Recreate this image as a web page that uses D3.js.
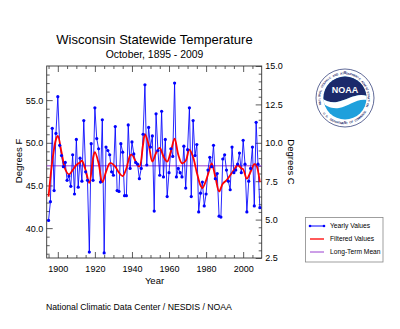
<!DOCTYPE html>
<html><head><meta charset="utf-8">
<script src="https://cdn.jsdelivr.net/npm/d3@7"></script>
<style>body{margin:0;background:#fff}svg{display:block}text{font-family:"Liberation Sans",Arial,sans-serif}</style>
</head><body>
<svg id="c" width="400" height="329"></svg>
<script>
// ---- data ----
const startYear = 1895;
const tempsF = [
  40.9, 43.1, 51.7, 44.4, 51.1, 55.4, 49.7, 48.5, 47.2, 47.7,
  45.6, 46.1, 44.9, 48.6, 44.0, 50.4, 44.8, 48.2, 45.5, 52.6,
  46.6, 45.6, 37.2, 49.9, 45.6, 54.1, 50.5, 49.3, 45.4, 52.7,
  37.1, 49.5, 49.1, 48.6, 46.6, 46.2, 51.9, 44.4, 44.3, 49.9,
  48.9, 43.8, 43.8, 52.1, 47.0, 50.1, 48.7, 47.7, 47.5, 45.8,
  47.0, 51.0, 56.8, 47.4, 51.8, 49.5, 50.8, 42.0, 53.4, 49.1,
  46.2, 53.7, 46.0, 50.4, 43.7, 46.5, 49.3, 48.4, 57.0, 46.0,
  47.0, 46.5, 46.0, 49.6, 44.7, 49.2, 54.1, 43.7, 52.6, 48.5,
  49.8, 41.9, 44.1, 45.4, 42.6, 44.0, 46.8, 48.3, 47.2, 49.7,
  45.8, 46.4, 41.4, 41.3, 48.1, 48.6, 46.8, 45.5, 44.5, 49.5,
  46.5, 46.8, 47.5, 48.8, 46.5, 50.3, 47.5, 41.9, 45.5, 47.0,
  49.5, 42.6, 52.4, 47.5, 42.4
];
const years = tempsF.map((_, i) => startYear + i);
const filteredYears = [1895,1897,1899,1900,1902,1904,1906,1908,1910,1912,1913,1915,1917,1919,1920,1922,1924,1926,1928,1929,1931,1933,1935,1937,1939,1940,1942,1944,1946,1947,1949,1951,1953,1955,1957,1959,1961,1963,1965,1967,1969,1971,1973,1975,1977,1978,1980,1982,1983,1985,1987,1989,1991,1993,1995,1997,1999,2000,2002,2004,2006,2007,2009];
const filteredF = [43.7,47.8,50.4,50.8,48.9,46.9,46.3,46.8,47.4,47.7,47.9,46.8,45.3,48.2,48.9,47.6,45.4,46.6,47.6,47.6,47.2,46.5,46.1,47.0,48.5,48.6,47.8,47.2,49.8,51.0,49.8,47.8,48.8,49.4,48.4,47.8,49.0,50.5,48.6,47.6,47.9,49.2,48.3,46.5,45.0,44.7,45.6,47.0,47.6,46.0,44.3,45.2,45.6,46.2,46.8,47.4,47.0,46.9,45.8,46.6,47.5,47.4,45.4];
const meanF = 47.3;
const xTickYears = [1900, 1920, 1940, 1960, 1980, 2000];
const yTicksF = [40, 45, 50, 55];
const yTicksC = [2.5, 5, 7.5, 10, 12.5, 15];
const legendLabels = ["Yearly Values", "Filtered Values", "Long-Term Mean"];
const logoTopText = "NATIONAL OCEANIC AND ATMOSPHERIC ADMINISTRATION";
const logoBottomText = "U.S. DEPARTMENT OF COMMERCE";

// ---- layout ----
const L = 46.7, R = 261.7, T = 66, B = 258;
const svg = d3.select("#c");
const x = d3.scaleLinear().domain([1894, 2010]).range([L, R]);
const yF = d3.scaleLinear().domain([36.5, 59]).range([B, T]);
const yC = d3.scaleLinear().domain([2.5, 15]).range([B, T]);
const blue = "#0000ff", red = "#ff0000", purple = "#9a3fd0", frame = "#333";

svg.append("rect").attr("width", 400).attr("height", 329).attr("fill", "#fff");

// titles
svg.append("text").attr("x", 154.5).attr("y", 43.5).attr("text-anchor", "middle")
  .attr("font-size", 13).attr("fill", "#000").text("Wisconsin Statewide Temperature");
svg.append("text").attr("x", 154.5).attr("y", 57.5).attr("text-anchor", "middle")
  .attr("font-size", 10.4).attr("fill", "#000").text("October, 1895 - 2009");

// axes
const fmt = d3.format(".1f");
function styleAxis(g) {
  g.select(".domain").remove();
  g.selectAll("line").attr("stroke", frame).attr("stroke-width", 0.8);
  g.selectAll("text").attr("font-size", 9).attr("fill", "#000")
    .attr("font-family", "Liberation Sans, Arial, sans-serif");
}
function bare(g) {
  g.select(".domain").remove();
  g.selectAll("text").remove();
  g.selectAll("line").attr("stroke", frame).attr("stroke-width", 0.8);
}
const minorYears = d3.range(1895, 2010, 5).filter(v => v % 20 !== 0);
svg.append("g").attr("transform", `translate(0,${B})`)
  .call(d3.axisBottom(x).tickValues(xTickYears).tickFormat(d3.format("d")).tickSizeInner(-6).tickSizeOuter(0).tickPadding(8))
  .call(styleAxis);
svg.append("g").attr("transform", `translate(0,${B})`)
  .call(d3.axisBottom(x).tickValues(minorYears).tickSizeInner(-3).tickSizeOuter(0)).call(bare);
svg.append("g").attr("transform", `translate(0,${T})`)
  .call(d3.axisTop(x).tickValues(xTickYears).tickSizeInner(-6).tickSizeOuter(0)).call(bare);
svg.append("g").attr("transform", `translate(0,${T})`)
  .call(d3.axisTop(x).tickValues(minorYears).tickSizeInner(-3).tickSizeOuter(0)).call(bare);
svg.append("g").attr("transform", `translate(${L},0)`)
  .call(d3.axisLeft(yF).tickValues(yTicksF).tickFormat(fmt).tickSizeInner(-6).tickSizeOuter(0).tickPadding(3.5))
  .call(styleAxis);
svg.append("g").attr("transform", `translate(${L},0)`)
  .call(d3.axisLeft(yF).tickValues(d3.range(37, 59, 1).filter(v => v % 5 !== 0)).tickSizeInner(-3).tickSizeOuter(0)).call(bare);
svg.append("g").attr("transform", `translate(${R},0)`)
  .call(d3.axisRight(yC).tickValues(yTicksC).tickFormat(fmt).tickSizeInner(-6).tickSizeOuter(0).tickPadding(3.5))
  .call(styleAxis);
svg.append("g").attr("transform", `translate(${R},0)`)
  .call(d3.axisRight(yC).tickValues(d3.range(3, 15, 0.5).filter(v => v % 2.5 !== 0)).tickSizeInner(-3).tickSizeOuter(0)).call(bare);

// frame
svg.append("rect").attr("x", L).attr("y", T).attr("width", R - L).attr("height", B - T)
  .attr("fill", "none").attr("stroke", frame).attr("stroke-width", 0.9);

// axis titles
svg.append("text").attr("transform", "translate(22,161) rotate(-90)").attr("text-anchor", "middle")
  .attr("font-size", 9.5).text("Degrees F");
svg.append("text").attr("transform", "translate(288,162) rotate(90)").attr("text-anchor", "middle")
  .attr("font-size", 9.5).text("Degrees C");
svg.append("text").attr("x", 154.5).attr("y", 284).attr("text-anchor", "middle")
  .attr("font-size", 9.5).text("Year");
svg.append("text").attr("x", 46).attr("y", 310).attr("font-size", 8.7)
  .text("National Climatic Data Center / NESDIS / NOAA");

// data
const plot = svg.append("g");
plot.append("line").attr("x1", L).attr("x2", R).attr("y1", yF(meanF)).attr("y2", yF(meanF))
  .attr("stroke", purple).attr("stroke-width", 1);
plot.append("path").datum(tempsF)
  .attr("d", d3.line().x((d, i) => x(years[i])).y(d => yF(d)))
  .attr("fill", "none").attr("stroke", blue).attr("stroke-width", 1).attr("stroke-opacity", 0.85);
plot.append("path").datum(filteredF)
  .attr("d", d3.line().x((d, i) => x(filteredYears[i])).y(d => yF(d)).curve(d3.curveCatmullRom.alpha(0.5)))
  .attr("fill", "none").attr("stroke", red).attr("stroke-width", 1.8);
plot.selectAll("circle.pt").data(tempsF).join("circle").attr("class", "pt")
  .attr("cx", (d, i) => x(years[i])).attr("cy", d => yF(d)).attr("r", 1.6).attr("fill", blue);

// legend
const lg = svg.append("g");
lg.append("rect").attr("x", 305.5).attr("y", 217.5).attr("width", 77.5).attr("height", 44.5)
  .attr("fill", "#fff").attr("stroke", "#888").attr("stroke-width", 0.8);
const ly = [226, 239, 252];
const lcol = [blue, red, purple];
legendLabels.forEach((t, i) => {
  lg.append("line").attr("x1", 310).attr("x2", 324).attr("y1", ly[i]).attr("y2", ly[i])
    .attr("stroke", lcol[i]).attr("stroke-width", i === 1 ? 1.3 : 1);
  if (i === 0) {
    [310, 324].forEach(cx => lg.append("circle").attr("cx", cx).attr("cy", ly[i]).attr("r", 1.3).attr("fill", blue));
  }
  lg.append("text").attr("x", 330).attr("y", ly[i] + 2.3).attr("font-size", 6.7).attr("fill", "#000").text(t);
});

// NOAA logo
const cx = 345, cy = 98;
const logo = svg.append("g");
logo.append("circle").attr("cx", cx).attr("cy", cy).attr("r", 29).attr("fill", "#fff")
  .attr("stroke", "#1b2a6b").attr("stroke-width", 0.7);
const defs = svg.append("defs");
defs.append("clipPath").attr("id", "disc").append("circle").attr("cx", cx).attr("cy", cy).attr("r", 21.5);
const disc = logo.append("g").attr("clip-path", "url(#disc)");
disc.append("rect").attr("x", cx - 22).attr("y", cy - 22).attr("width", 44).attr("height", 44).attr("fill", "#1ea0dc");
disc.append("path").attr("fill", "#1b2a6b")
  .attr("d", `M ${cx-22} ${cy-22} H ${cx+22} V ${cy-2} C ${cx+12} ${cy-6}, ${cx+2} ${cy+2}, ${cx-8} ${cy+4} C ${cx-14} ${cy+5}, ${cx-19} ${cy+3}, ${cx-22} ${cy+1} Z`);
disc.append("path").attr("fill", "#fff")
  .attr("d", `M ${cx-22} ${cy+1} C ${cx-19} ${cy+3}, ${cx-14} ${cy+5}, ${cx-8} ${cy+4} C ${cx+2} ${cy+2}, ${cx+12} ${cy-6}, ${cx+22} ${cy-2} L ${cx+22} ${cy+2} C ${cx+12} ${cy}, ${cx+4} ${cy+8}, ${cx-6} ${cy+10} C ${cx-14} ${cy+11}, ${cx-19} ${cy+8}, ${cx-22} ${cy+5} Z`);
logo.append("text").attr("x", cx).attr("y", cy - 5).attr("text-anchor", "middle")
  .attr("font-size", 9).attr("font-weight", "bold").attr("fill", "#fff").text("NOAA");

// ring lettering: one glyph per position along the circle, grouped in short arcs
const ringFs = 2.9, adv = ringFs * 0.66;
function ringGroups(str, r, top) {
  const n = str.length, step = adv / r * 180 / Math.PI;
  const span = step * (n - 1);
  const chars = str.split("").map((ch, i) => {
    const a = top ? (-90 - span / 2 + i * step) : (90 + span / 2 - i * step);
    const rad = a * Math.PI / 180;
    return { ch, a, px: cx + r * Math.cos(rad), py: cy + r * Math.sin(rad), rot: top ? a + 90 : a - 90 };
  });
  const key = c => top ? (c.a < -135 ? 0 : c.a > -45 ? 2 : 1) : (c.a > 120 ? 0 : c.a < 60 ? 2 : 1);
  return [0, 1, 2].map(k => chars.filter(c => key(c) === k)).filter(g => g.length);
}
function drawRing(str, r, top) {
  ringGroups(str, r, top).forEach(g => {
    logo.append("text").attr("font-size", ringFs).attr("font-weight", "bold").attr("fill", "#1b2a6b")
      .attr("text-anchor", "middle")
      .attr("x", g.map(c => c.px.toFixed(2)).join(" "))
      .attr("y", g.map(c => c.py.toFixed(2)).join(" "))
      .attr("rotate", g.map(c => c.rot.toFixed(1)).join(" "))
      .text(g.map(c => c.ch).join(""));
  });
}
drawRing(logoTopText, 23.6, true);
drawRing(logoBottomText, 26.2, false);
</script>
</body></html>
